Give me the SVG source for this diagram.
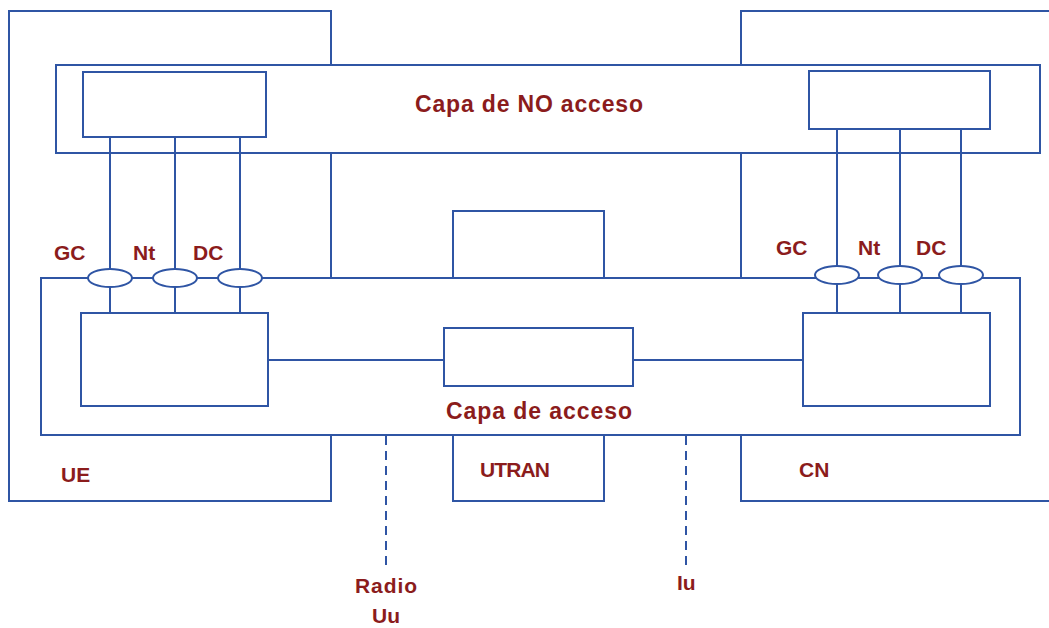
<svg xmlns="http://www.w3.org/2000/svg" width="1049" height="628" viewBox="0 0 1049 628">
<style>
.b{fill:#fff;stroke:#2f55a4;stroke-width:2}
.l{fill:none;stroke:#2f55a4;stroke-width:2}
.d{fill:none;stroke:#2f55a4;stroke-width:2;stroke-dasharray:9 6}
.t{font-family:"Liberation Sans",Arial,sans-serif;font-weight:bold;font-size:21px;fill:#8b1c1c}
.h{font-size:23px}
</style>
<rect width="1049" height="628" fill="#fff"/>
<g id="ue"><rect class="b" x="9" y="11" width="322" height="490"/><text class="t" x="61" y="482">UE</text></g>
<g id="cn"><rect class="b" x="741" y="11" width="330" height="490"/><text class="t" x="799" y="477">CN</text></g>
<g id="utran"><rect class="b" x="453" y="211" width="151" height="290"/><text class="t" x="480" y="477" textLength="70">UTRAN</text></g>
<g id="capa-no-acceso"><rect class="b" x="56" y="65" width="984" height="88"/><text class="t h" x="415" y="112" textLength="228">Capa de NO acceso</text></g>
<g id="capa-acceso"><rect class="b" x="41" y="278" width="979" height="157"/><text class="t h" x="446" y="419" textLength="186">Capa de acceso</text></g>
<g id="ue-no-acceso"><rect class="b" x="83" y="72" width="183" height="65"/></g>
<g id="cn-no-acceso"><rect class="b" x="809" y="71" width="181" height="58"/></g>
<g id="connectors">
<path class="l" d="M110 137V313M175 137V313M240 137V313M837 129V313M900 129V313M961 129V313M268 360H444M633 360H803"/>
<path class="d" d="M386 436V567M686 436V567"/>
</g>
<g id="ue-acceso"><rect class="b" x="81" y="313" width="187" height="93"/></g>
<g id="utran-acceso"><rect class="b" x="444" y="328" width="189" height="58"/></g>
<g id="cn-acceso"><rect class="b" x="803" y="313" width="187" height="93"/></g>
<g id="sap-ue">
<ellipse class="b" cx="110" cy="278" rx="22" ry="9"/>
<ellipse class="b" cx="175" cy="278" rx="22" ry="9"/>
<ellipse class="b" cx="240" cy="278" rx="22" ry="9"/>
<text class="t" x="54" y="260">GC</text><text class="t" x="133" y="260">Nt</text><text class="t" x="193" y="260">DC</text>
</g>
<g id="sap-cn">
<ellipse class="b" cx="837" cy="275" rx="22" ry="9"/>
<ellipse class="b" cx="900" cy="275" rx="22" ry="9"/>
<ellipse class="b" cx="961" cy="275" rx="22" ry="9"/>
<text class="t" x="776" y="255">GC</text><text class="t" x="858" y="255">Nt</text><text class="t" x="916" y="255">DC</text>
</g>
<g id="labels">
<text class="t" x="355" y="593" textLength="62">Radio</text>
<text class="t" x="372" y="623">Uu</text>
<text class="t" x="677" y="590">Iu</text>
</g>
</svg>
